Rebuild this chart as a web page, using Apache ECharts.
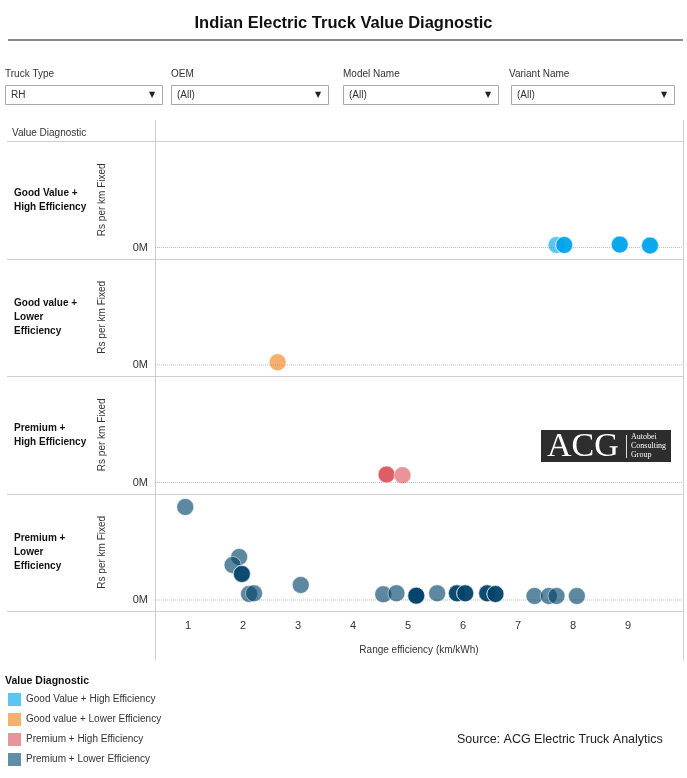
<!DOCTYPE html>
<html>
<head>
<meta charset="utf-8">
<script src="https://cdn.jsdelivr.net/npm/echarts@6/dist/echarts.min.js"></script>
<style>
  html, body { margin: 0; padding: 0; background: #fff; }
  #chart { width: 687px; height: 778px; }
</style>
</head>
<body>
<div id="chart"></div>
<script>
const FONT = "'Liberation Sans Narrow', 'Arial Narrow', 'Liberation Sans', Arial, sans-serif";
const SERIF = "'Liberation Serif', 'DejaVu Serif', serif";

const groups = [
    'Good Value + High Efficiency',
    'Good value + Lower Efficiency',
    'Premium + High Efficiency',
    'Premium + Lower Efficiency'
];
const rowLabels = [
    'Good Value +\nHigh Efficiency',
    'Good value +\nLower\nEfficiency',
    'Premium +\nHigh Efficiency',
    'Premium +\nLower\nEfficiency'
];
const colors = ['#00a3ec', '#ef811b', '#da555e', '#004368'];
const legendColors = ['#5bc5f3', '#f5b070', '#e8949a', '#5f8ea8'];
const xTicks = [1, 2, 3, 4, 5, 6, 7, 8, 9];
const yTicks = [0];
const xRange = [0.4, 10.0];

const filterNames = ['Truck Type', 'OEM', 'Model Name', 'Variant Name'];
const filterValues = ['RH', '(All)', '(All)', '(All)'];

// [range efficiency, rs per km fixed] - repeated rows are trucks on the same spot
const goodHigh = [
    [7.70, 0.25], [7.84, 0.25], [7.84, 0.25], [7.84, 0.25],
    [8.85, 0.3], [8.85, 0.3], [8.85, 0.3],
    [9.40, 0.2], [9.40, 0.2], [9.40, 0.2]
];
const goodLower = [[2.63, 0.27]];
const premHigh = [[4.61, 0.8], [4.61, 0.8], [4.61, 0.8], [4.90, 0.73]];
const premLower = [
    [0.95, 9.3],
    [1.93, 4.3], [1.81, 3.5],
    [1.98, 2.6], [1.98, 2.6], [1.98, 2.6],
    [2.11, 0.6], [2.20, 0.67],
    [3.05, 1.5],
    [4.55, 0.57], [4.79, 0.67],
    [5.15, 0.43], [5.15, 0.43], [5.15, 0.43], [5.15, 0.43],
    [5.53, 0.67],
    [5.89, 0.67], [5.89, 0.67], [5.89, 0.67],
    [6.04, 0.67], [6.04, 0.67], [6.04, 0.67],
    [6.44, 0.67], [6.44, 0.67], [6.44, 0.67],
    [6.59, 0.6], [6.59, 0.6], [6.59, 0.6],
    [7.30, 0.4], [7.56, 0.4], [7.70, 0.4], [8.07, 0.4]
];
const seriesData = [goodHigh, goodLower, premHigh, premLower];

const panelTop = 141;
const panelH = 117.5;
const plotLeft = 155;
const plotRight = 683;

const chart = echarts.init(document.getElementById('chart'));

const grids = [], xAxes = [], yAxes = [], series = [];
groups.forEach((g, i) => {
    const last = i === groups.length - 1;
    grids.push({ left: plotLeft, right: 687 - plotRight, top: panelTop + i * panelH, height: panelH });
    xAxes.push({
        type: 'value', gridIndex: i, min: xRange[0], max: xRange[1],
        axisLine: { show: false }, axisTick: { show: false }, splitLine: { show: false },
        axisLabel: {
            show: last, customValues: xTicks, margin: 9,
            fontFamily: FONT, fontSize: 11, color: '#333'
        },
        name: last ? 'Range efficiency (km/kWh)' : '',
        nameLocation: 'middle', nameGap: 34,
        nameTextStyle: { fontFamily: FONT, fontSize: 10, color: '#333' }
    });
    yAxes.push({
        type: 'value', gridIndex: i, min: -1.1, max: 10.65,
        axisLine: { show: false }, axisTick: { show: false }, splitLine: { show: false },
        axisLabel: {
            customValues: yTicks, margin: 7, formatter: v => v + 'M',
            fontFamily: FONT, fontSize: 11, color: '#333'
        },
        name: 'Rs per km Fixed', nameLocation: 'middle', nameGap: 48, nameRotate: 90,
        nameTextStyle: { fontFamily: FONT, fontSize: 10, color: '#333' }
    });
    // dotted zero line under the marks
    series.push({
        name: 'zero-' + i, type: 'line', xAxisIndex: i, yAxisIndex: i, z: 1, silent: true,
        data: [[xRange[0], 0], [xRange[1], 0]], symbol: 'none',
        lineStyle: { type: 'dotted', color: '#bbb', width: 1 }
    });
    series.push({
        name: g, type: 'scatter', xAxisIndex: i, yAxisIndex: i, z: 2,
        data: seriesData[i], symbolSize: 17,
        itemStyle: { color: colors[i], opacity: 0.63, borderColor: '#fff', borderWidth: 0.8 },
        emphasis: { disabled: true }
    });
});

const graphics = [];
// title rule
graphics.push({ type: 'rect', shape: { x: 8, y: 39, width: 675, height: 2 }, style: { fill: '#8a8a8a' } });

// filters
const filterX = [5, 171, 343, 511];
const filterW = [157, 157, 155, 163];
filterNames.forEach((n, i) => {
    graphics.push({ type: 'text', x: filterX[i] - (i === 3 ? 2 : 0), y: 74,
        style: { text: n, fontFamily: FONT, fontSize: 10, fill: '#333', verticalAlign: 'middle' } });
    graphics.push({ type: 'rect', shape: { x: filterX[i] + 0.5, y: 85.5, width: filterW[i], height: 19 },
        style: { fill: '#fff', stroke: '#a8a8a8', lineWidth: 1 } });
    graphics.push({ type: 'text', x: filterX[i] + 6, y: 95,
        style: { text: filterValues[i], fontFamily: FONT, fontSize: 10, fill: '#333', verticalAlign: 'middle' } });
    graphics.push({ type: 'text', x: filterX[i] + filterW[i] - 10, y: 95,
        style: { text: '▼', fontFamily: 'DejaVu Sans', fontSize: 8, fill: '#222', align: 'center', verticalAlign: 'middle' } });
});

// table frame
graphics.push({ type: 'text', x: 12, y: 133,
    style: { text: 'Value Diagnostic', fontFamily: FONT, fontSize: 10, fill: '#333', verticalAlign: 'middle' } });
[plotLeft, plotRight].forEach(x => graphics.push({ type: 'line', shape: { x1: x + 0.5, y1: 120, x2: x + 0.5, y2: 660 },
    style: { stroke: '#cfcfcf', lineWidth: 1 } }));
for (let i = 0; i <= groups.length; i++) {
    const y = Math.round(panelTop + i * panelH) + 0.5;
    graphics.push({ type: 'line', shape: { x1: 7, y1: y, x2: plotRight, y2: y }, style: { stroke: '#cfcfcf', lineWidth: 1 } });
}
rowLabels.forEach((t, i) => {
    graphics.push({ type: 'text', x: 14, y: panelTop + (i + 0.5) * panelH,
        style: { text: t, fontFamily: FONT, fontSize: 10, fontWeight: 'bold', fill: '#111',
            lineHeight: 14, verticalAlign: 'middle' } });
});

// logo
graphics.push({ type: 'rect', shape: { x: 541, y: 430, width: 130, height: 32 }, style: { fill: '#2d2d2d' } });
graphics.push({ type: 'text', x: 547, y: 447,
    style: { text: 'ACG', fontFamily: SERIF, fontSize: 34, fill: '#fff', verticalAlign: 'middle' } });
graphics.push({ type: 'line', shape: { x1: 626.5, y1: 435, x2: 626.5, y2: 458 }, style: { stroke: '#ddd', lineWidth: 1 } });
graphics.push({ type: 'text', x: 631, y: 446,
    style: { text: 'Autobei\nConsulting\nGroup', fontFamily: SERIF, fontSize: 8, lineHeight: 9, fill: '#fff', verticalAlign: 'middle' } });

// legend title + source
graphics.push({ type: 'text', x: 5, y: 681,
    style: { text: 'Value Diagnostic', fontFamily: FONT, fontSize: 10.5, fontWeight: 'bold', fill: '#111', verticalAlign: 'middle' } });
graphics.push({ type: 'text', x: 457, y: 740,
    style: { text: 'Source: ACG Electric Truck Analytics', fontFamily: FONT, fontSize: 12.5, fill: '#222', verticalAlign: 'middle' } });

chart.setOption({
    animation: false,
    title: {
        text: 'Indian Electric Truck Value Diagnostic', left: 'center', top: 10,
        textStyle: { fontFamily: FONT, fontSize: 16.5, fontWeight: 'bold', color: '#111' }
    },
    legend: {
        orient: 'vertical', left: 8, top: 693, padding: 0, itemWidth: 13, itemHeight: 13, itemGap: 7,
        icon: 'rect', selectedMode: false,
        textStyle: { fontFamily: FONT, fontSize: 10, color: '#333' },
        data: groups.map((g, i) => ({ name: g, itemStyle: { color: legendColors[i], opacity: 1, borderWidth: 0 } }))
    },
    grid: grids,
    xAxis: xAxes,
    yAxis: yAxes,
    series: series,
    graphic: graphics
});
</script>
</body>
</html>
